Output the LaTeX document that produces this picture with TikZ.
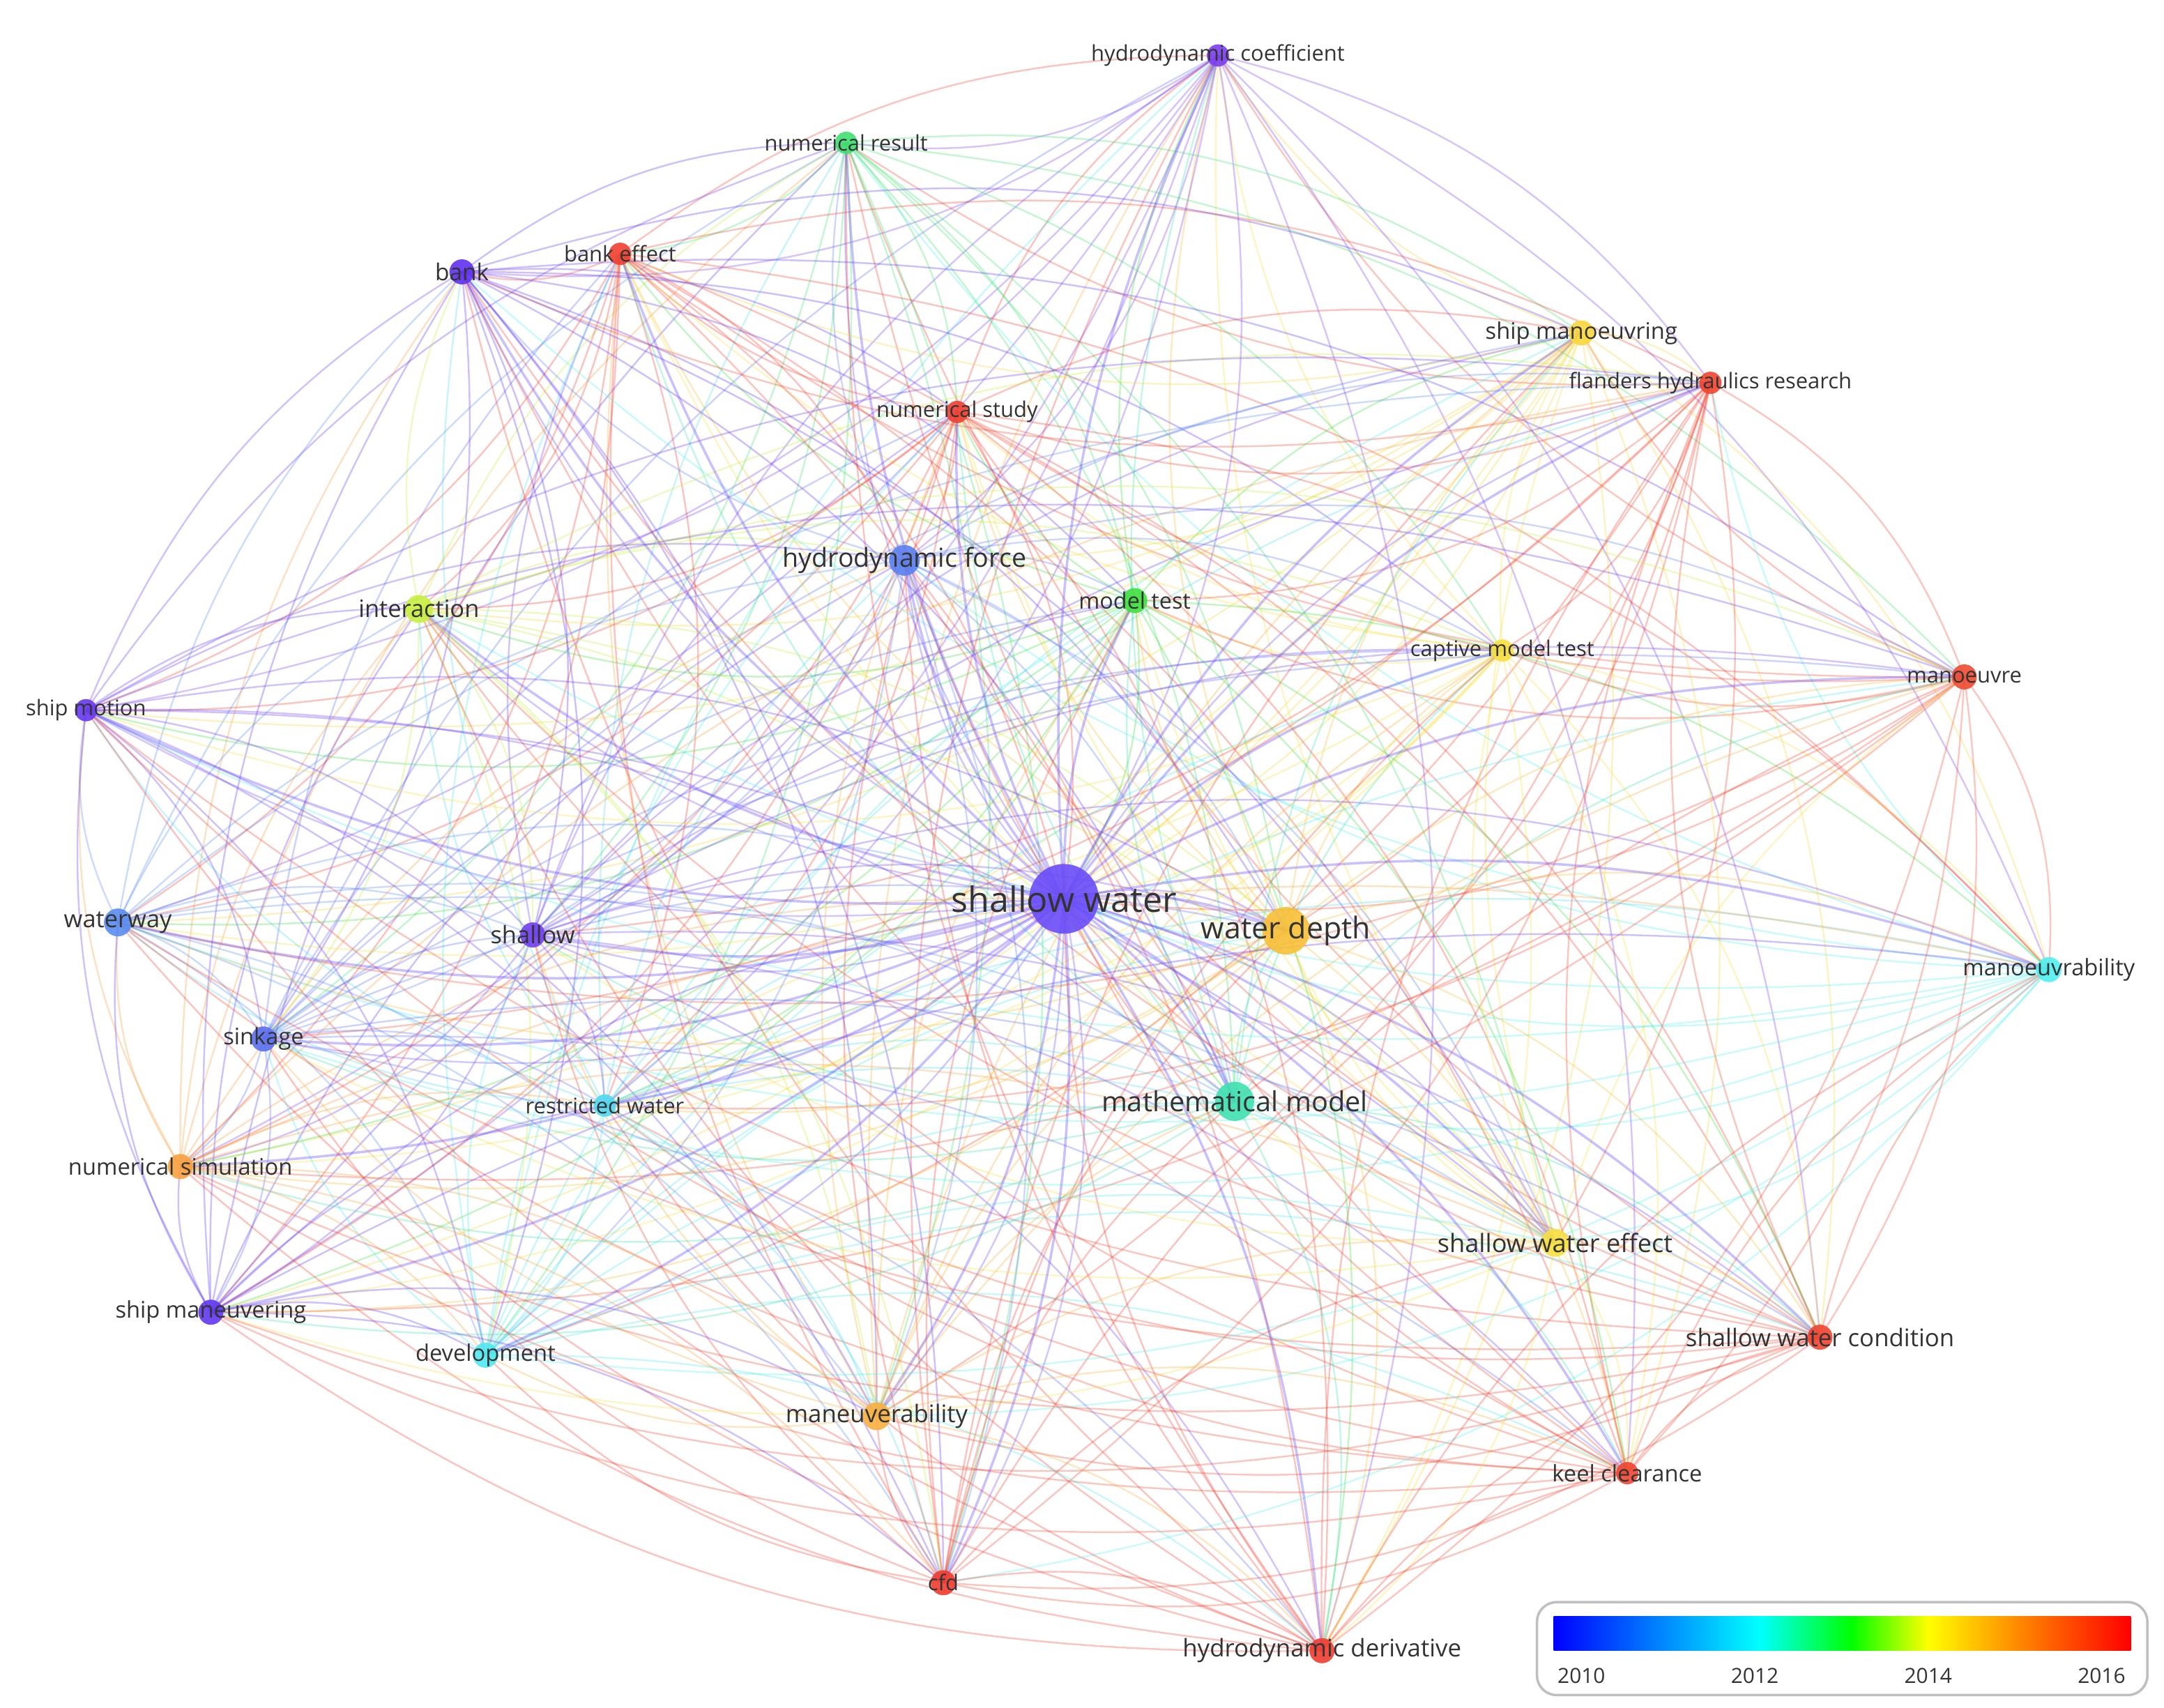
\documentclass[tikz,border=0pt]{standalone}
\usepackage{fontspec}
\setmainfont{Open Sans}
\usetikzlibrary{backgrounds}
\definecolor{col1}{HTML}{7B3FF0}
\definecolor{col2}{HTML}{40E070}
\definecolor{col3}{HTML}{F04030}
\definecolor{col4}{HTML}{6030F0}
\definecolor{col5}{HTML}{F8D840}
\definecolor{col6}{HTML}{F04530}
\definecolor{col7}{HTML}{F04030}
\definecolor{col8}{HTML}{5A80F0}
\definecolor{col9}{HTML}{40E040}
\definecolor{col10}{HTML}{C8F040}
\definecolor{col11}{HTML}{F8E040}
\definecolor{col12}{HTML}{6838F0}
\definecolor{col13}{HTML}{F04B30}
\definecolor{col14}{HTML}{6A4CF8}
\definecolor{col15}{HTML}{F8C038}
\definecolor{col16}{HTML}{5A8CF0}
\definecolor{col17}{HTML}{7040F0}
\definecolor{col18}{HTML}{50F0F0}
\definecolor{col19}{HTML}{5A70F0}
\definecolor{col20}{HTML}{50D8F0}
\definecolor{col21}{HTML}{40E0B0}
\definecolor{col22}{HTML}{F8A040}
\definecolor{col23}{HTML}{F8E040}
\definecolor{col24}{HTML}{6038F0}
\definecolor{col25}{HTML}{50E8F0}
\definecolor{col26}{HTML}{F04530}
\definecolor{col27}{HTML}{F8B040}
\definecolor{col28}{HTML}{F04530}
\definecolor{col29}{HTML}{F03C30}
\definecolor{col30}{HTML}{F03C30}
\definecolor{txt}{HTML}{333333}
\begin{document}
\begin{tikzpicture}[x=0.0199cm,y=-0.0199cm,
  dot/.style={circle,inner sep=0pt,opacity=.9},
  lab/.style={text=txt,inner sep=0pt}]
\useasboundingbox (0,0) rectangle (1560,1231);
\foreach \i/\x/\y/\r in {
1/878/40/8, 2/610/103/8, 3/447/183/8, 4/333/196/9, 5/1140/240/9,
6/1233/276/8, 7/690/297/8, 8/652/404/11, 9/818/433/9, 10/302/439/10,
11/1083/469/8, 12/62/512/8, 13/1416/488/9, 14/767/648/25, 15/927/671/17,
16/85/665/10, 17/384/674/9, 18/1477/699/9, 19/190/749/9, 20/436/797/8,
21/890/794/14, 22/130/841/9, 23/1121/896/10, 24/152/946/9, 25/350/977/9,
26/1312/964/9, 27/632/1021/10, 28/1173/1062/8, 29/680/1141/9, 30/953/1190/9}
  \node[dot,fill=col\i,minimum size={\r*0.04cm}] (n\i) at (\x,\y) {};
\begin{scope}[on background layer]
\fill[white] (0,0) rectangle (1560,1231);
\foreach \i in {1,...,30}{\foreach \j in {1,...,30}{%
  \ifnum\i<\j
   \ifodd\numexpr\i+\j\relax
    \draw[col\i,opacity=.3,line width=.7pt] (n\i.center) to[bend left=20] (n\j.center);
   \else
    \draw[col\j,opacity=.3,line width=.7pt] (n\i.center) to[bend right=18] (n\j.center);
   \fi
  \fi}}
\foreach \j in {1,...,13,15,16,...,30}
  \draw[col14,opacity=.35,line width=1pt] (n14.center) to[bend left=14] (n\j.center);
\end{scope}
\foreach \i/\t/\s in {
1/hydrodynamic coefficient/8.8, 2/numerical result/8.8, 3/bank effect/8.8, 4/bank/9.5,
5/ship manoeuvring/9.3, 6/flanders hydraulics research/8.8, 7/numerical study/8.8,
8/hydrodynamic force/10.7, 9/model test/9.2, 10/interaction/9.8, 11/captive model test/8.8,
12/ship motion/8.8, 13/manoeuvre/8.8, 14/shallow water/14.3, 15/water depth/12.2,
16/waterway/9.8, 17/shallow/9.8, 18/manoeuvrability/9.3, 19/sinkage/9.3,
20/restricted water/8.8, 21/mathematical model/11.3, 22/numerical simulation/9.3,
23/shallow water effect/10.3, 24/ship maneuvering/9.3, 25/development/9.3,
26/shallow water condition/9.9, 27/maneuverability/9.9, 28/keel clearance/9.3,
29/cfd/8.8, 30/hydrodynamic derivative/9.9}
  \node[lab,font=\fontsize{\s pt}{\s pt}\selectfont] (l\i) at (n\i) {\t};
% legend
\draw[gray!50,line width=1pt,rounded corners=8pt,fill=white] (1108,1155) rectangle (1548,1222);
\shade[left color=blue,right color=cyan] (1120,1165) rectangle (1268,1190);
\shade[left color=cyan,right color=green] (1268,1165) rectangle (1335,1190);
\shade[left color=green,right color=yellow] (1335,1165) rectangle (1390,1190);
\shade[left color=yellow,right color=orange] (1390,1165) rectangle (1460,1190);
\shade[left color=orange,right color=red] (1460,1165) rectangle (1536,1190);
\foreach \x/\t in {1140/2010,1265/2012,1390/2014,1515/2016}
  \node[lab,font=\fontsize{8.5pt}{9pt}\selectfont] (y\t) at (\x,1208) {\t};
\end{tikzpicture}
\end{document}
